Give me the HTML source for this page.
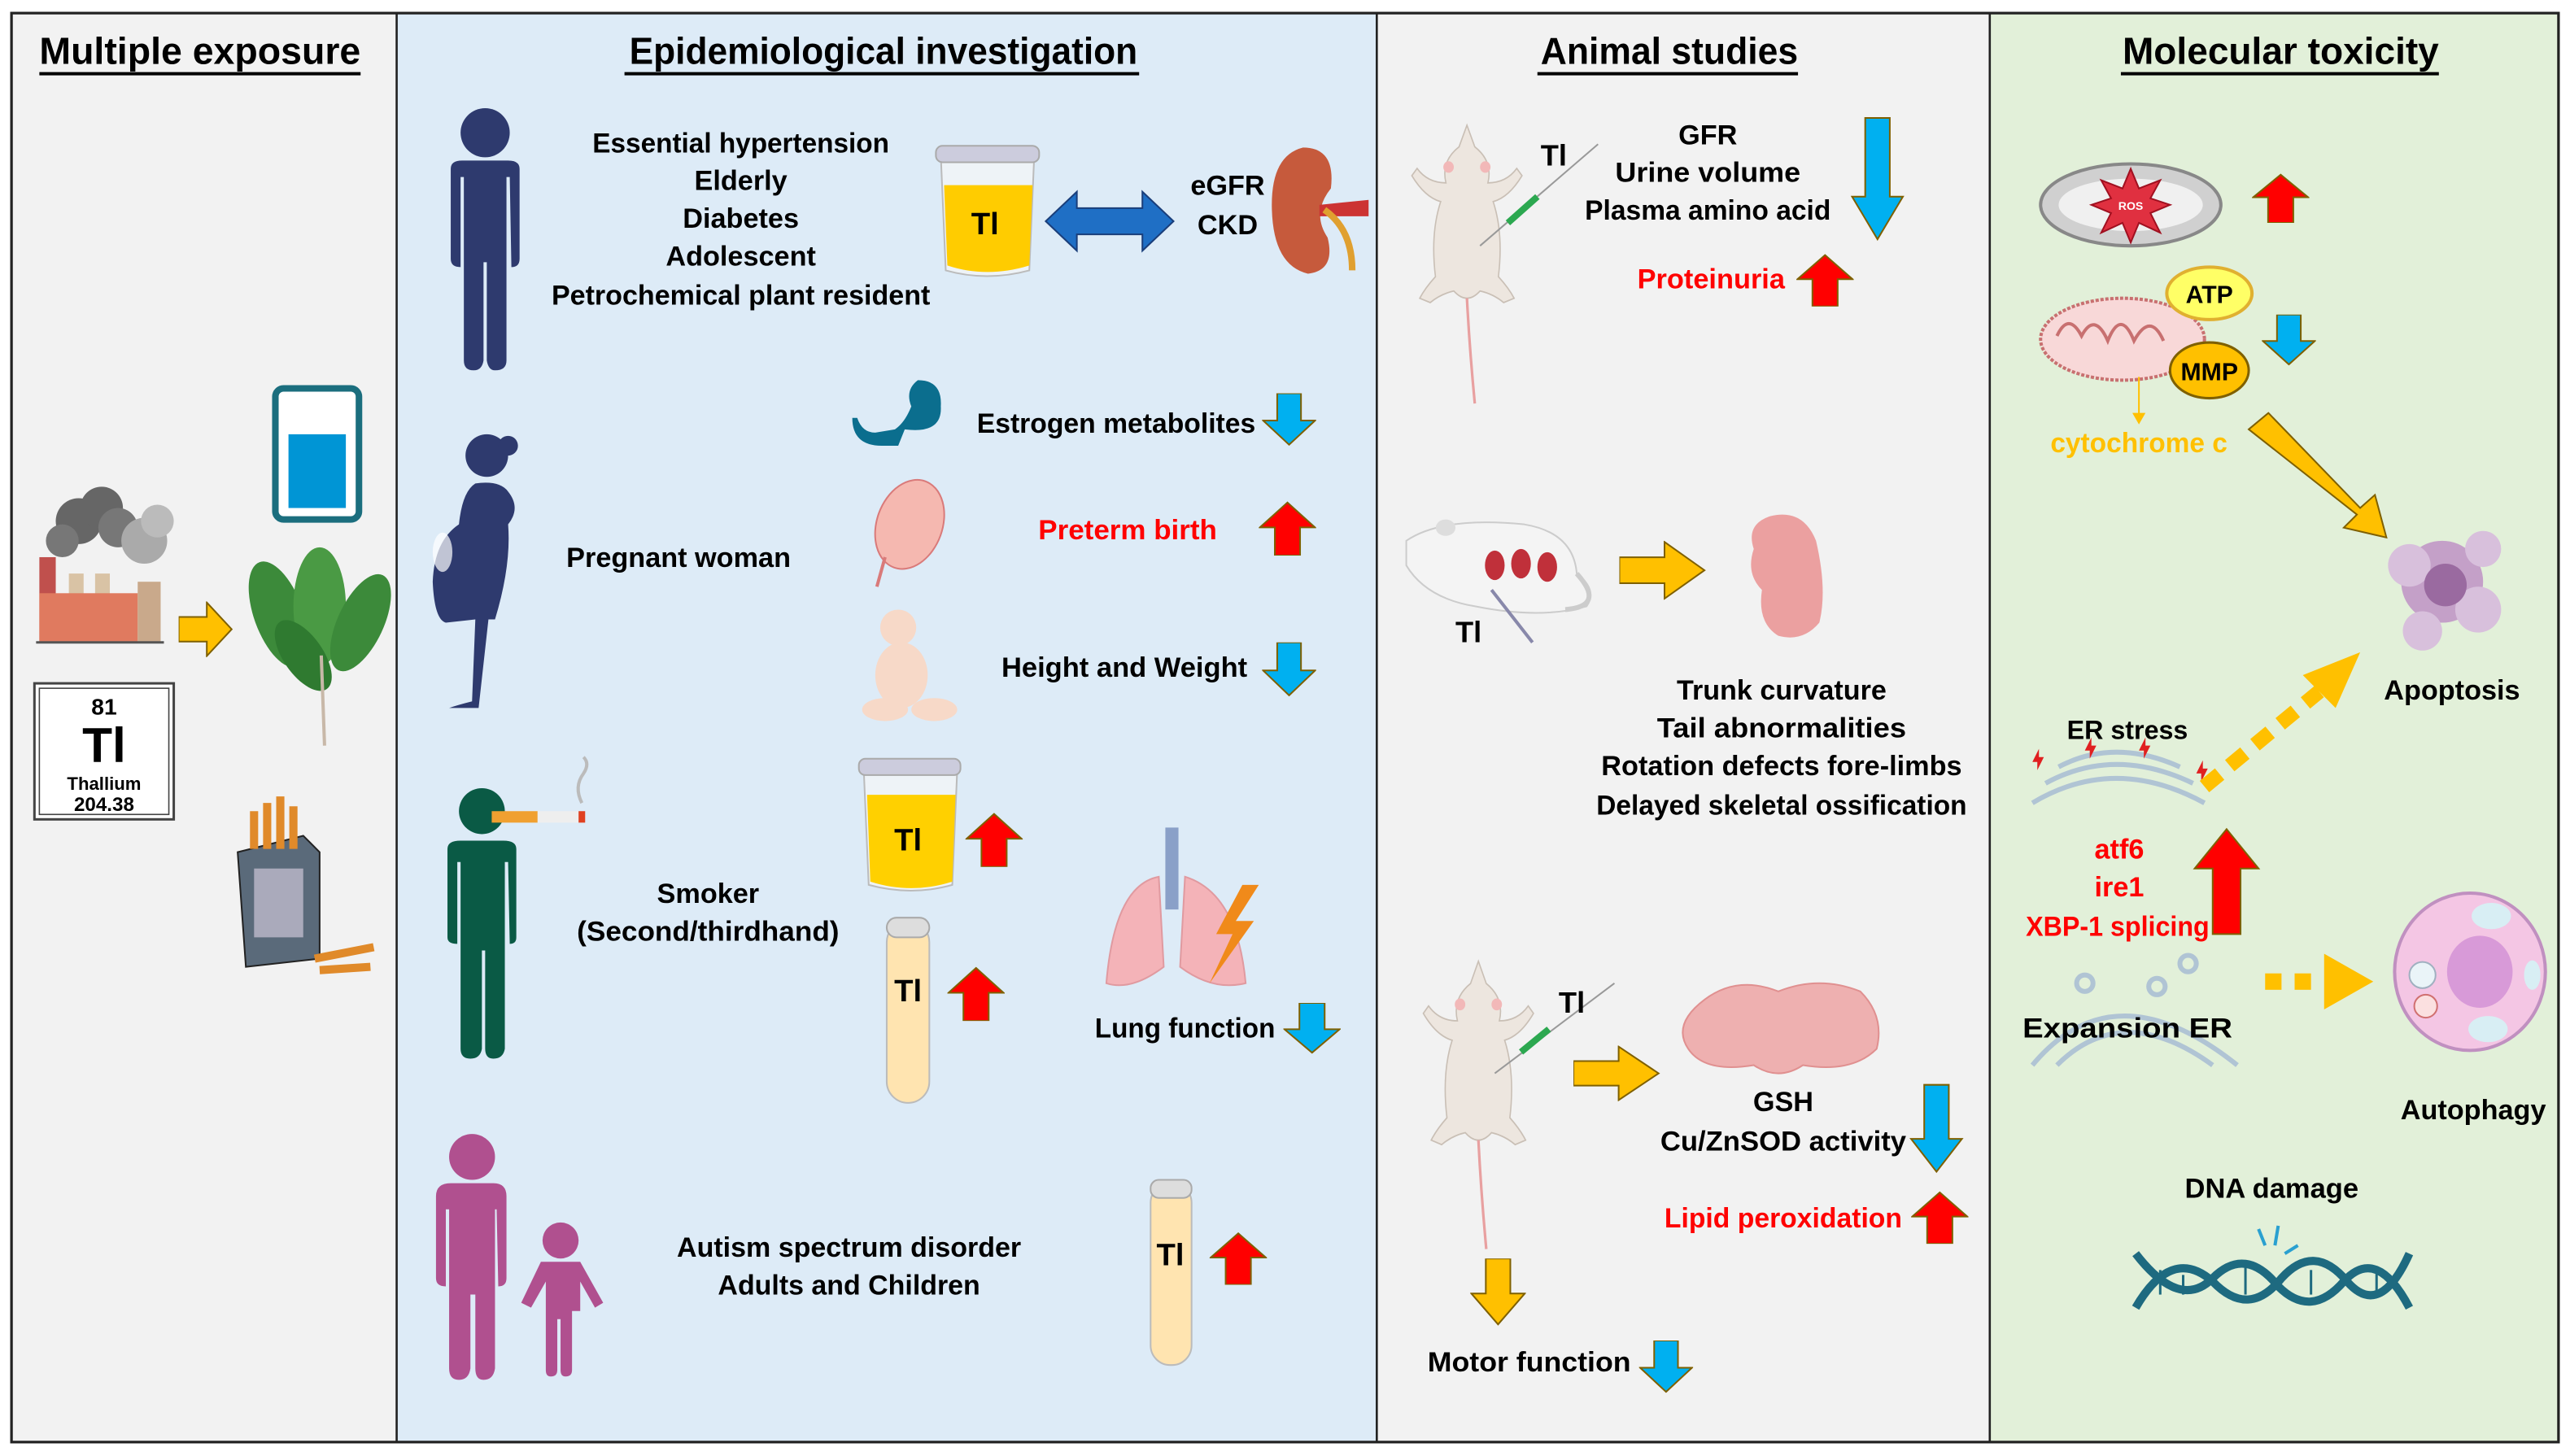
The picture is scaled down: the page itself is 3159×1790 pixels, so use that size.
<!DOCTYPE html>
<html><head><meta charset="utf-8"><style>
html,body{margin:0;padding:0;background:#fff;}
svg{display:block;}
text{font-family:"Liberation Sans",sans-serif;font-weight:bold;}
</style></head><body>
<svg width="3159" height="1790" viewBox="0 0 1568 888.5" xmlns="http://www.w3.org/2000/svg">
<defs>
<symbol id="up" viewBox="0 0 100 100" preserveAspectRatio="none"><path d="M28 100 L28 48 L2 48 L50 2 L98 48 L72 48 L72 100 Z" stroke="#7f6000" stroke-width="2" vector-effect="non-scaling-stroke"/></symbol>
<symbol id="dn" viewBox="0 0 100 100" preserveAspectRatio="none"><path d="M28 0 L72 0 L72 52 L98 52 L50 98 L2 52 L28 52 Z" stroke="#7f6000" stroke-width="2" vector-effect="non-scaling-stroke"/></symbol>
<symbol id="rt" viewBox="0 0 100 100" preserveAspectRatio="none"><path d="M0 28 L52 28 L52 2 L98 50 L52 98 L52 72 L0 72 Z" stroke="#7f6000" stroke-width="2" vector-effect="non-scaling-stroke"/></symbol>
<symbol id="rat" viewBox="0 0 100 200" preserveAspectRatio="none">
<path d="M50 5 L44 20 Q30 30 34 45 Q20 45 12 35 L8 40 Q18 55 30 58 Q22 80 26 110 Q18 118 14 125 L22 128 Q30 122 40 120 Q50 130 60 120 Q70 122 78 128 L86 125 Q82 118 74 110 Q78 80 70 58 Q82 55 92 40 L88 35 Q80 45 66 45 Q70 30 56 20 Z" fill="#ede6df" stroke="#c9bfb5" stroke-width="1"/>
<path d="M50 125 Q52 160 56 198" fill="none" stroke="#e8a0a0" stroke-width="2"/>
<circle cx="36" cy="34" r="4" fill="#f2b8b8"/><circle cx="64" cy="34" r="4" fill="#f2b8b8"/>
</symbol>
</defs>
<rect x="0" y="0" width="1568" height="888.5" fill="#fff"/>
<rect x="7" y="8" width="235" height="872" fill="#f2f2f2"/>
<rect x="242" y="8" width="598" height="872" fill="#ddebf7"/>
<rect x="840" y="8" width="374" height="872" fill="#f2f2f2"/>
<rect x="1214" y="8" width="347" height="872" fill="#e2f0d9"/>
<rect x="7" y="8" width="1554" height="872" fill="none" stroke="#222" stroke-width="1.6"/>
<line x1="242" y1="8" x2="242" y2="880" stroke="#222" stroke-width="1.3"/>
<line x1="840" y1="8" x2="840" y2="880" stroke="#222" stroke-width="1.3"/>
<line x1="1214" y1="8" x2="1214" y2="880" stroke="#222" stroke-width="1.3"/>

<!-- titles -->
<g font-size="23" fill="#000">
<text x="24" y="39" textLength="196" lengthAdjust="spacingAndGlyphs">Multiple exposure</text>
<text x="384" y="39" textLength="310" lengthAdjust="spacingAndGlyphs">Epidemiological investigation</text>
<text x="940" y="39" textLength="157" lengthAdjust="spacingAndGlyphs">Animal studies</text>
<text x="1295" y="39" textLength="193" lengthAdjust="spacingAndGlyphs">Molecular toxicity</text>
</g>
<g stroke="#000" stroke-width="2">
<line x1="24" y1="45" x2="220" y2="45"/><line x1="381" y1="45" x2="695" y2="45"/>
<line x1="938" y1="45" x2="1097" y2="45"/><line x1="1294" y1="45" x2="1488" y2="45"/>
</g>

<!-- PANEL 1 -->
<rect x="168" y="237" width="51" height="80" rx="5" fill="#fff" stroke="#1b6e7e" stroke-width="4"/>
<rect x="176" y="265" width="35" height="45" fill="#0095d5"/>
<g>
<rect x="24" y="340" width="10" height="52" fill="#c0504d"/><rect x="42" y="350" width="9" height="42" fill="#d9c3a5"/><rect x="58" y="350" width="9" height="42" fill="#d9c3a5"/>
<rect x="24" y="362" width="60" height="30" fill="#e07a5f"/><rect x="84" y="355" width="14" height="37" fill="#c9a98b"/>
<circle cx="48" cy="318" r="14" fill="#666"/><circle cx="62" cy="310" r="13" fill="#666"/><circle cx="72" cy="322" r="12" fill="#777"/><circle cx="88" cy="330" r="14" fill="#aaa"/><circle cx="96" cy="318" r="10" fill="#bbb"/><circle cx="38" cy="330" r="10" fill="#777"/>
<line x1="22" y1="392" x2="100" y2="392" stroke="#555" stroke-width="1.5"/>
</g>
<use href="#rt" x="109" y="367" width="33" height="34" fill="#ffc000"/>
<g fill="#3c8a3a">
<ellipse cx="170" cy="375" rx="15" ry="34" transform="rotate(-20 170 375)"/>
<ellipse cx="195" cy="370" rx="16" ry="36" fill="#4a9a44"/>
<ellipse cx="220" cy="380" rx="14" ry="32" transform="rotate(25 220 380)"/>
<ellipse cx="185" cy="400" rx="12" ry="25" transform="rotate(-35 185 400)" fill="#2f7a30"/>
</g>
<line x1="196" y1="400" x2="198" y2="455" stroke="#c8b8a8" stroke-width="2"/>
<rect x="21" y="417" width="85" height="83" fill="#fff" stroke="#444" stroke-width="1.5"/>
<rect x="24" y="420" width="79" height="77" fill="none" stroke="#444" stroke-width="0.8"/>
<text x="63.5" y="436" font-size="14" text-anchor="middle" font-weight="normal">81</text>
<text x="63.5" y="465" font-size="30" text-anchor="middle" font-weight="normal">Tl</text>
<text x="63.5" y="482" font-size="11" text-anchor="middle" font-weight="normal">Thallium</text>
<text x="63.5" y="495" font-size="12" text-anchor="middle" font-weight="normal">204.38</text>
<g>
<path d="M145 520 L185 510 L195 520 L195 585 L150 590 Z" fill="#5a6a7a" stroke="#222"/>
<rect x="155" y="530" width="30" height="42" fill="#aab"/>
<g stroke="#e08a2a" stroke-width="5"><line x1="155" y1="518" x2="155" y2="495"/><line x1="163" y1="518" x2="163" y2="490"/><line x1="171" y1="518" x2="171" y2="486"/><line x1="179" y1="518" x2="179" y2="492"/></g>
<g stroke="#e08a2a" stroke-width="5"><line x1="192" y1="585" x2="228" y2="578"/><line x1="195" y1="592" x2="226" y2="590"/></g>
</g>

<!-- PANEL 2 -->
<g fill="#2e3a6e">
<circle cx="296" cy="81" r="15"/>
<path d="M275 103 Q275 98 282 98 L310 98 Q317 98 317 103 L317 158 Q317 163 312 163 L311 108 L309 108 L309 220 Q309 226 302 226 Q298 226 297 220 L297 160 L295 160 L295 220 Q294 226 289 226 Q283 226 283 220 L283 108 L281 108 L281 163 Q275 163 275 158 Z"/>
</g>
<g font-size="17" text-anchor="middle" fill="#000">
<text x="452" y="93" textLength="181" lengthAdjust="spacingAndGlyphs">Essential hypertension</text>
<text x="452" y="116">Elderly</text>
<text x="452" y="139">Diabetes</text>
<text x="452" y="162">Adolescent</text>
<text x="452" y="186" textLength="231" lengthAdjust="spacingAndGlyphs">Petrochemical plant resident</text>
<text x="749" y="119">eGFR</text>
<text x="749" y="143">CKD</text>
</g>
<!-- cup 1 -->
<path d="M574 95 L631 95 L628 165 Q602 172 577 165 Z" fill="#eef3f7" stroke="#bbb"/>
<path d="M576 113 L630 113 L628 162 Q602 170 578 162 Z" fill="#ffcc00"/>
<rect x="571" y="89" width="63" height="10" rx="4" fill="#ccd" stroke="#aaa"/>
<text x="601" y="143" font-size="19" text-anchor="middle">Tl</text>
<path d="M638 135 L657 117 L657 127 L697 127 L697 117 L716 135 L697 153 L697 143 L657 143 L657 153 Z" fill="#1f6fc5" stroke="#1a3e7a" stroke-width="1"/>
<path d="M795 90 Q775 95 776 128 Q777 162 798 167 Q815 165 810 145 Q800 130 812 115 Q815 90 795 90 Z" fill="#c65a3c"/>
<path d="M805 125 L835 122 L835 132 L805 132 Z" fill="#c33"/>
<path d="M808 128 Q825 140 825 165" stroke="#e0a030" stroke-width="4" fill="none"/>
<!-- pregnant -->
<g fill="#2e3a6e">
<circle cx="297" cy="278" r="13"/><circle cx="310" cy="272" r="6"/>
<path d="M290 295 Q282 300 280 320 Q265 330 264 355 Q265 378 272 380 L290 378 L288 428 Q280 430 274 432 L292 432 L298 378 L302 378 Q312 345 310 320 Q318 310 310 300 Q305 293 290 295 Z"/>
</g>
<ellipse cx="270" cy="337" rx="6" ry="12" fill="#fff" opacity="0.7"/>
<g font-size="17" text-anchor="middle" fill="#000">
<text x="414" y="346">Pregnant woman</text>
<text x="681" y="264" textLength="170" lengthAdjust="spacingAndGlyphs">Estrogen metabolites</text>
<text x="688" y="329" fill="#ff0000" textLength="109" lengthAdjust="spacingAndGlyphs">Preterm birth</text>
<text x="686" y="413" textLength="150" lengthAdjust="spacingAndGlyphs">Height and Weight</text>
</g>
<path d="M520 255 Q520 272 538 272 L548 272 L552 262 Q575 265 574 248 Q575 232 560 232 Q552 238 556 248 Q552 258 546 262 L534 264 Q526 264 523 255 Z" fill="#0b6e8e"/>
<ellipse cx="555" cy="320" rx="20" ry="28" fill="#f5b8b0" stroke="#d97a7a" transform="rotate(20 555 320)"/>
<path d="M540 340 L535 358" stroke="#d97a7a" stroke-width="2"/>
<g fill="#f7d9c8"><circle cx="548" cy="383" r="11"/><ellipse cx="550" cy="412" rx="16" ry="20"/><ellipse cx="540" cy="433" rx="14" ry="7"/><ellipse cx="570" cy="433" rx="14" ry="7"/></g>
<use href="#dn" x="770" y="240" width="33" height="32" fill="#00b0f0"/>
<use href="#up" x="768" y="306" width="35" height="33" fill="#ff0000"/>
<use href="#dn" x="770" y="392" width="33" height="33" fill="#00b0f0"/>
<!-- smoker -->
<g fill="#0a5a45">
<circle cx="294" cy="495" r="14"/>
<path d="M273 518 Q273 513 281 513 L307 513 Q315 513 315 518 L315 572 Q315 576 311 576 L310 526 L308 526 L308 640 Q307 646 301 646 Q296 646 296 640 L296 580 L294 580 L294 640 Q293 646 287 646 Q281 646 281 640 L281 526 L279 526 L279 576 Q273 576 273 572 Z"/>
</g>
<rect x="300" y="495" width="28" height="7" fill="#f0a030"/><rect x="328" y="495" width="25" height="7" fill="#eee"/><rect x="353" y="495" width="4" height="7" fill="#e04020"/>
<path d="M355 490 Q350 480 356 472 Q360 466 356 462" stroke="#bbb" stroke-width="2" fill="none"/>
<g font-size="17" text-anchor="middle" fill="#000">
<text x="432" y="551">Smoker</text>
<text x="432" y="574" textLength="160" lengthAdjust="spacingAndGlyphs">(Second/thirdhand)</text>
<text x="723" y="633" textLength="110" lengthAdjust="spacingAndGlyphs">Lung function</text>
</g>
<path d="M527 470 L584 470 L581 540 Q556 547 530 540 Z" fill="#eef3f7" stroke="#bbb"/>
<path d="M529 485 L583 485 L581 538 Q556 546 531 538 Z" fill="#ffd000"/>
<rect x="524" y="463" width="62" height="10" rx="4" fill="#ccd" stroke="#aaa"/>
<text x="554" y="519" font-size="19" text-anchor="middle">Tl</text>
<use href="#up" x="589" y="496" width="35" height="33" fill="#ff0000"/>
<rect x="541" y="562" width="26" height="111" rx="13" fill="#ffe4b0" stroke="#bbb"/>
<rect x="541" y="560" width="26" height="12" rx="6" fill="#ddd" stroke="#aaa"/>
<text x="554" y="611" font-size="19" text-anchor="middle">Tl</text>
<use href="#up" x="578" y="590" width="35" height="33" fill="#ff0000"/>
<g fill="#f4b3b8" stroke="#e09aa0">
<path d="M707 535 Q680 540 675 600 Q690 605 710 590 Z"/>
<path d="M723 535 Q755 545 760 600 Q740 605 720 590 Z"/>
</g>
<rect x="711" y="505" width="8" height="50" fill="#8aa0c8"/>
<path d="M758 540 L742 570 L752 570 L738 600 L765 562 L754 562 L768 540 Z" fill="#f08a1a"/>
<use href="#dn" x="783" y="612" width="35" height="31" fill="#00b0f0"/>
<!-- adult & child -->
<g fill="#b0508f">
<circle cx="288" cy="706" r="14"/>
<path d="M266 730 Q266 722 275 722 L301 722 Q309 722 309 730 L309 780 Q309 785 304 785 L303 738 L302 738 L302 835 Q301 842 295 842 Q290 842 290 835 L290 790 L287 790 L287 835 Q286 842 280 842 Q274 842 274 835 L274 738 L272 738 L272 785 Q266 785 266 780 Z"/>
<circle cx="342" cy="757" r="11"/>
<path d="M330 770 L354 770 L368 795 L363 798 L354 782 L354 800 L349 800 L349 836 Q349 840 345 840 Q342 840 342 836 L342 805 L340 805 L340 836 Q340 840 336 840 Q333 840 333 836 L333 782 L324 798 L318 795 Z"/>
</g>
<g font-size="17" text-anchor="middle" fill="#000">
<text x="518" y="767" textLength="210" lengthAdjust="spacingAndGlyphs">Autism spectrum disorder</text>
<text x="518" y="790" textLength="160" lengthAdjust="spacingAndGlyphs">Adults and Children</text>
</g>
<rect x="702" y="722" width="25" height="111" rx="12" fill="#ffe4b0" stroke="#bbb"/>
<rect x="702" y="720" width="25" height="11" rx="5" fill="#ddd" stroke="#aaa"/>
<text x="714" y="772" font-size="19" text-anchor="middle">Tl</text>
<use href="#up" x="738" y="752" width="35" height="32" fill="#ff0000"/>

<!-- PANEL 3 -->
<use href="#rat" x="855" y="72" width="80" height="176"/>
<line x1="903" y1="150" x2="975" y2="88" stroke="#999" stroke-width="1"/>
<line x1="920" y1="136" x2="938" y2="120" stroke="#2ca850" stroke-width="4"/>
<text x="940" y="101" font-size="18">Tl</text>
<g font-size="17" text-anchor="middle" fill="#000">
<text x="1042" y="88">GFR</text>
<text x="1042" y="111" textLength="113" lengthAdjust="spacingAndGlyphs">Urine volume</text>
<text x="1042" y="134" textLength="150" lengthAdjust="spacingAndGlyphs">Plasma amino acid</text>
<text x="1044" y="176" fill="#ff0000" textLength="90" lengthAdjust="spacingAndGlyphs">Proteinuria</text>
</g>
<path d="M1138 72 L1153 72 L1153 120 L1161 120 L1145.5 146 L1130 120 L1138 120 Z" fill="#00b0f0" stroke="#7f6000" stroke-width="1"/>
<use href="#up" x="1096" y="155" width="35" height="32" fill="#ff0000"/>
<!-- pregnant mouse -->
<path d="M858 330 Q880 315 930 320 Q960 325 962 350 Q975 360 968 370 Q940 378 900 370 Q870 365 858 345 Z" fill="#f4f4f4" stroke="#ccc"/>
<ellipse cx="882" cy="322" rx="6" ry="5" fill="#ddd"/>
<g fill="#c0303a"><ellipse cx="912" cy="345" rx="6" ry="9"/><ellipse cx="928" cy="344" rx="6" ry="9"/><ellipse cx="944" cy="346" rx="6" ry="9"/></g>
<path d="M962 350 Q980 370 955 372" stroke="#ccc" stroke-width="3" fill="none"/>
<line x1="910" y1="360" x2="935" y2="392" stroke="#88a" stroke-width="2"/>
<text x="888" y="392" font-size="18">Tl</text>
<use href="#rt" x="988" y="330" width="53" height="36" fill="#ffc000"/>
<path d="M1080 315 Q1100 310 1108 330 Q1115 360 1110 380 Q1100 392 1085 388 Q1072 380 1075 360 Q1065 350 1070 335 Q1065 320 1080 315 Z" fill="#eba0a0"/>
<g font-size="17" text-anchor="middle" fill="#000">
<text x="1087" y="427" textLength="128" lengthAdjust="spacingAndGlyphs">Trunk curvature</text>
<text x="1087" y="450" textLength="152" lengthAdjust="spacingAndGlyphs">Tail abnormalities</text>
<text x="1087" y="473" textLength="220" lengthAdjust="spacingAndGlyphs">Rotation defects fore-limbs</text>
<text x="1087" y="497" textLength="226" lengthAdjust="spacingAndGlyphs">Delayed skeletal ossification</text>
</g>
<use href="#rat" x="862" y="582" width="80" height="182"/>
<line x1="912" y1="655" x2="985" y2="600" stroke="#999" stroke-width="1"/>
<line x1="928" y1="642" x2="945" y2="628" stroke="#2ca850" stroke-width="4"/>
<text x="951" y="618" font-size="18">Tl</text>
<use href="#rt" x="960" y="638" width="53" height="34" fill="#ffc000"/>
<path d="M1040 610 Q1060 595 1085 605 Q1110 595 1135 605 Q1150 620 1145 640 Q1130 655 1100 650 Q1085 660 1070 650 Q1040 655 1030 640 Q1020 625 1040 610 Z" fill="#eeb0b0" stroke="#e09090"/>
<g font-size="17" text-anchor="middle" fill="#000">
<text x="1088" y="678">GSH</text>
<text x="1088" y="702" textLength="150" lengthAdjust="spacingAndGlyphs">Cu/ZnSOD activity</text>
<text x="1088" y="749" fill="#ff0000" textLength="145" lengthAdjust="spacingAndGlyphs">Lipid peroxidation</text>
<text x="933" y="837" textLength="124" lengthAdjust="spacingAndGlyphs">Motor function</text>
</g>
<path d="M1174 662 L1189 662 L1189 695 L1197 695 L1181.5 715 L1166 695 L1174 695 Z" fill="#00b0f0" stroke="#7f6000" stroke-width="1"/>
<use href="#up" x="1166" y="727" width="35" height="32" fill="#ff0000"/>
<use href="#dn" x="897" y="768" width="34" height="41" fill="#ffc000"/>
<use href="#dn" x="1000" y="818" width="33" height="32" fill="#00b0f0"/>

<!-- PANEL 4 -->
<ellipse cx="1300" cy="125" rx="55" ry="25" fill="#d0d0d0" stroke="#888" stroke-width="2"/>
<ellipse cx="1300" cy="125" rx="44" ry="16" fill="#f0f0f0"/>
<path d="M1300 103 L1305 115 L1318 110 L1312 121 L1324 125 L1312 130 L1318 142 L1305 136 L1300 148 L1295 136 L1282 142 L1288 130 L1276 125 L1288 121 L1282 110 L1295 115 Z" fill="#e03040" stroke="#a01020"/>
<text x="1300" y="128" font-size="7" fill="#fff" text-anchor="middle" font-weight="normal">ROS</text>
<use href="#up" x="1374" y="106" width="35" height="30" fill="#ff0000"/>
<ellipse cx="1295" cy="207" rx="50" ry="25" fill="#f8d8d8" stroke="#c87070" stroke-width="2" stroke-dasharray="2 1"/>
<path d="M1255 205 Q1262 190 1270 205 Q1278 190 1286 208 Q1294 188 1302 208 Q1312 190 1320 208" stroke="#c87070" stroke-width="2" fill="none"/>
<line x1="1305" y1="230" x2="1305" y2="255" stroke="#ffc000" stroke-width="1"/>
<path d="M1301 252 L1309 252 L1305 259 Z" fill="#ffc000"/>
<ellipse cx="1348" cy="179" rx="26" ry="16" fill="#ffff66" stroke="#e0b030" stroke-width="2"/>
<text x="1348" y="185" font-size="15" text-anchor="middle" font-weight="normal">ATP</text>
<ellipse cx="1348" cy="226" rx="24" ry="17" fill="#ffc000" stroke="#7f6000" stroke-width="1.5"/>
<text x="1348" y="232" font-size="15" text-anchor="middle" font-weight="normal">MMP</text>
<use href="#dn" x="1380" y="192" width="33" height="31" fill="#00b0f0"/>
<text x="1305" y="276" font-size="17" text-anchor="middle" fill="#ffc000" textLength="108" lengthAdjust="spacingAndGlyphs">cytochrome c</text>
<path d="M1372 262 L1384 252 L1440 310 L1449 302 L1456 328 L1430 322 L1438 314 Z" fill="#ffc000" stroke="#7f6000" stroke-width="1"/>
<g fill="#c4a0c8"><circle cx="1490" cy="355" r="25"/><circle cx="1470" cy="345" r="13" fill="#d8c0dc"/><circle cx="1512" cy="372" r="14" fill="#d8c0dc"/><circle cx="1478" cy="385" r="12" fill="#d8c0dc"/><circle cx="1515" cy="335" r="11" fill="#d8c0dc"/></g>
<circle cx="1492" cy="357" r="13" fill="#9a6aa0"/>
<text x="1496" y="427" font-size="17" text-anchor="middle">Apoptosis</text>
<text x="1298" y="451" font-size="16" text-anchor="middle" font-weight="normal">ER stress</text>
<g stroke="#b0c4d4" stroke-width="3" fill="none"><path d="M1240 490 Q1290 460 1345 490"/><path d="M1248 478 Q1290 455 1338 478"/><path d="M1256 468 Q1290 450 1330 468"/></g>
<g fill="#e02020"><path d="M1240 465 l4 -8 l0 5 l3 0 l-4 8 l0 -5 z"/><path d="M1272 458 l4 -8 l0 5 l3 0 l-4 8 l0 -5 z"/><path d="M1305 458 l4 -8 l0 5 l3 0 l-4 8 l0 -5 z"/><path d="M1340 472 l4 -8 l0 5 l3 0 l-4 8 l0 -5 z"/></g>
<g stroke="#ffc000" stroke-width="9" stroke-dasharray="12 8"><line x1="1345" y1="480" x2="1415" y2="422"/></g>
<path d="M1405 412 L1440 398 L1425 432 Z" fill="#ffc000"/>
<g font-size="17" text-anchor="middle" fill="#ff0000">
<text x="1293" y="524">atf6</text>
<text x="1293" y="547">ire1</text>
<text x="1292" y="571" textLength="112" lengthAdjust="spacingAndGlyphs">XBP-1 splicing</text>
</g>
<path d="M1350 570 L1367 570 L1367 530 L1378 530 L1358.5 506 L1339 530 L1350 530 Z" fill="#ff0000" stroke="#7f6000" stroke-width="1"/>
<g stroke="#b0c4d4" stroke-width="3" fill="none"><path d="M1240 650 Q1290 590 1365 650"/><path d="M1255 650 Q1295 610 1350 650"/><circle cx="1272" cy="600" r="5"/><circle cx="1316" cy="602" r="5"/><circle cx="1335" cy="588" r="5"/></g>
<text x="1298" y="633" font-size="17" text-anchor="middle" textLength="128" lengthAdjust="spacingAndGlyphs">Expansion ER</text>
<g fill="#ffc000"><rect x="1382" y="594" width="10" height="10"/><rect x="1400" y="594" width="10" height="10"/><path d="M1418 582 L1448 599 L1418 616 Z"/></g>
<ellipse cx="1507" cy="593" rx="46" ry="48" fill="#f4c6e4" stroke="#c090c0" stroke-width="2"/>
<ellipse cx="1513" cy="593" rx="20" ry="22" fill="#d89ad8"/>
<ellipse cx="1520" cy="559" rx="12" ry="8" fill="#d8eef4"/><ellipse cx="1518" cy="628" rx="12" ry="8" fill="#d8eef4"/><ellipse cx="1545" cy="595" rx="5" ry="9" fill="#d8eef4"/>
<circle cx="1478" cy="595" r="8" fill="#eaf4f8" stroke="#a0b0c0"/><circle cx="1480" cy="614" r="7" fill="#fbe0e0" stroke="#d07070"/>
<text x="1509" y="683" font-size="17" text-anchor="middle">Autophagy</text>
<text x="1386" y="731" font-size="17" text-anchor="middle" textLength="106" lengthAdjust="spacingAndGlyphs">DNA damage</text>
<g stroke="#1e6a80" stroke-width="5" fill="none">
<path d="M1303 765 Q1330 800 1350 780 Q1370 760 1390 785 Q1410 805 1430 782 Q1450 760 1470 798"/>
<path d="M1303 798 Q1325 760 1350 782 Q1372 805 1392 780 Q1412 758 1432 782 Q1452 805 1470 765"/>
</g>
<g stroke="#1e6a80" stroke-width="1.5"><line x1="1318" y1="775" x2="1318" y2="790"/><line x1="1332" y1="778" x2="1332" y2="790"/><line x1="1370" y1="772" x2="1370" y2="790"/><line x1="1410" y1="775" x2="1410" y2="790"/><line x1="1450" y1="775" x2="1450" y2="790"/></g>
<g stroke="#2aa0d0" stroke-width="2"><line x1="1378" y1="750" x2="1382" y2="760"/><line x1="1390" y1="748" x2="1388" y2="760"/><line x1="1402" y1="760" x2="1394" y2="765"/></g>
</svg>
</body></html>
